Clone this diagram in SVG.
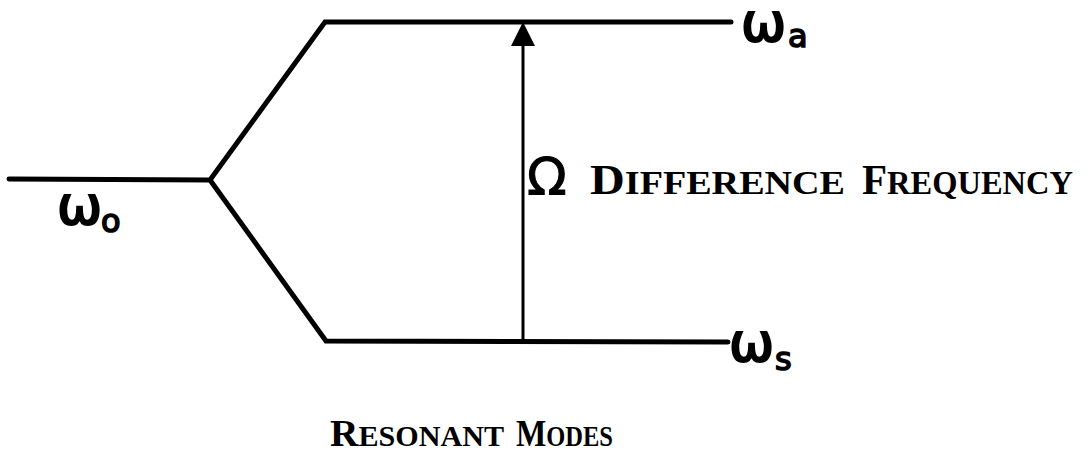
<svg xmlns="http://www.w3.org/2000/svg" width="1089" height="460" viewBox="0 0 1089 460">
<style>
.ln{fill:none;stroke:#000;stroke-width:5;stroke-linecap:round;stroke-linejoin:miter}
.ar{fill:none;stroke:#000;stroke-width:3}
.om{font-family:"DejaVu Sans","Liberation Sans",sans-serif;font-size:54px;fill:#000;stroke:#000;stroke-width:2.2}
.sub{font-family:"DejaVu Sans","Liberation Sans",sans-serif;font-size:32px;fill:#000;stroke:#000;stroke-width:1.6}
.cap{font-family:"Liberation Serif","DejaVu Serif",serif;font-weight:bold;fill:#000}
</style>
<rect width="1089" height="460" fill="#fff"/>
<g id="connectors">
<path class="ln" d="M9,179 L210,180 L325,22 L731,22"/>
<path class="ln" d="M210,180 L326,341 L728,342"/>
<line class="ar" x1="523" y1="341" x2="523" y2="44"/>
<polygon points="523,22 511,46 535,46" fill="#000"/>
</g>
<g id="node-w0">
<text class="om" x="57" y="224">ω</text><text class="sub" x="101" y="232">o</text>
</g>
<g id="node-wa">
<text class="om" x="741" y="41">ω</text><text class="sub" x="788" y="47">a</text>
</g>
<g id="node-ws">
<text class="om" x="729" y="361">ω</text><text class="sub" x="775" y="370">s</text>
</g>
<g id="label-omega">
<text x="527" y="195" style="font-family:'DejaVu Sans','Liberation Sans',sans-serif;font-size:52px;stroke:#000;stroke-width:1">Ω</text>
</g>
<g id="label-diff">
<text class="cap" x="590" y="194" textLength="255" lengthAdjust="spacingAndGlyphs"><tspan font-size="43">D</tspan><tspan font-size="34">IFFERENCE</tspan></text>
<text class="cap" x="862" y="194" textLength="211" lengthAdjust="spacingAndGlyphs"><tspan font-size="43">F</tspan><tspan font-size="34">REQUENCY</tspan></text>
</g>
<g id="label-res">
<text class="cap" x="330" y="446" textLength="174" lengthAdjust="spacingAndGlyphs"><tspan font-size="38">R</tspan><tspan font-size="29">ESONANT</tspan></text>
<text class="cap" x="516" y="446" textLength="97" lengthAdjust="spacingAndGlyphs"><tspan font-size="38">M</tspan><tspan font-size="29">ODES</tspan></text>
</g>
</svg>
